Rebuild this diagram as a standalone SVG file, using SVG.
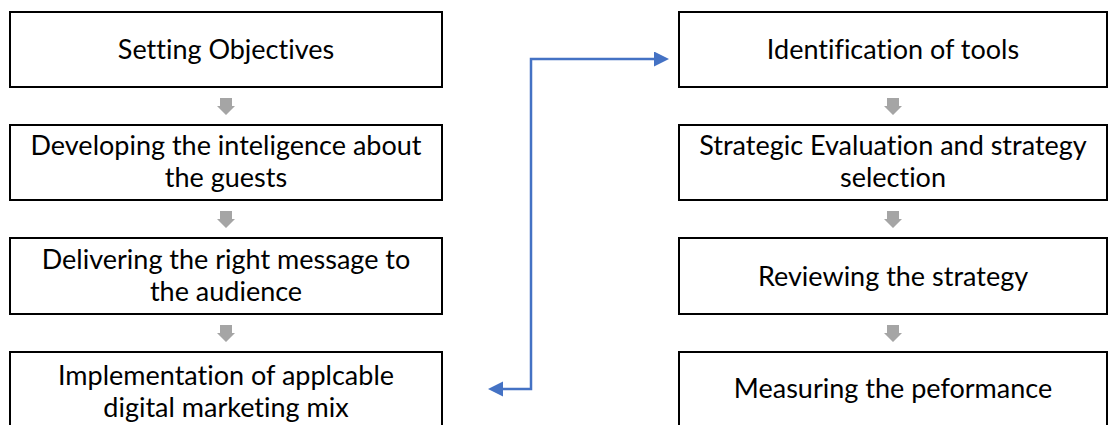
<svg xmlns="http://www.w3.org/2000/svg" width="1109" height="425" viewBox="0 0 1109 425">
<style>
.box{fill:#fff;stroke:#000;stroke-width:2}
.t{font-family:Lato,"Open Sans","Liberation Sans",sans-serif;font-size:27px;fill:#000;text-anchor:middle;font-variant-ligatures:none}
.g{fill:#a5a5a5}
.conn{fill:none;stroke:#4472c4;stroke-width:2.5}
</style>
<defs>
<marker id="ah" markerUnits="userSpaceOnUse" markerWidth="16" markerHeight="16" refX="0" refY="7.5" orient="auto-start-reverse" viewBox="0 0 16 16">
<path d="M0,0 L15,7.5 L0,15 z" fill="#4472c4"/>
</marker>
<path id="ga" d="M-6,0 H6 V8 H9 L0,17 L-9,8 H-6 Z"/>
</defs>
<rect width="1109" height="425" fill="#fff"/>
<g id="n1"><rect class="box" x="10" y="12" width="432" height="75"/><text class="t" x="226" y="59">Setting Objectives</text></g>
<g id="n2"><rect class="box" x="10" y="125" width="432" height="75"/><text class="t" x="226" y="155">Developing the inteligence about</text><text class="t" x="226" y="187">the guests</text></g>
<g id="n3"><rect class="box" x="10" y="238" width="432" height="76"/><text class="t" x="226" y="269">Delivering the right message to</text><text class="t" x="226" y="301">the audience</text></g>
<g id="n4"><rect class="box" x="10" y="352" width="432" height="90"/><text class="t" x="226" y="385">Implementation of applcable</text><text class="t" x="226" y="417">digital marketing mix</text></g>
<g id="n5"><rect class="box" x="679" y="12" width="428" height="75"/><text class="t" x="893" y="59">Identification of tools</text></g>
<g id="n6"><rect class="box" x="679" y="125" width="428" height="75"/><text class="t" x="893" y="155">Strategic Evaluation and strategy</text><text class="t" x="893" y="187">selection</text></g>
<g id="n7"><rect class="box" x="679" y="238" width="428" height="76"/><text class="t" x="893" y="286">Reviewing the strategy</text></g>
<g id="n8"><rect class="box" x="679" y="352" width="428" height="90"/><text class="t" x="893" y="398">Measuring the peformance</text></g>
<g id="connectors">
<use href="#ga" class="g" x="226" y="98"/>
<use href="#ga" class="g" x="226" y="211"/>
<use href="#ga" class="g" x="226" y="325"/>
<use href="#ga" class="g" x="893" y="98"/>
<use href="#ga" class="g" x="893" y="211"/>
<use href="#ga" class="g" x="893" y="325"/>
<path class="conn" d="M503,389 H531 V59 H654" marker-start="url(#ah)" marker-end="url(#ah)"/>
</g>
</svg>
